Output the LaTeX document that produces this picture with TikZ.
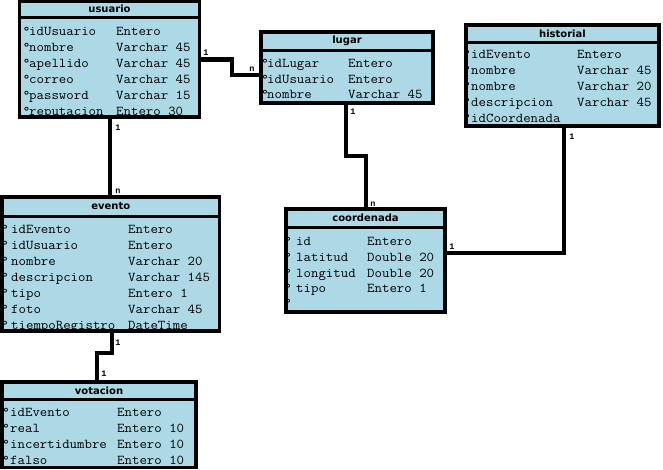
\documentclass[tikz,border=0pt]{standalone}
\usepackage{fontspec}
\newfontfamily\ermono[FakeStretch=1.07]{Latin Modern Mono}
\newfontfamily\erlabel{Liberation Mono}
\newfontfamily\hdrfont{DejaVu Sans}
\definecolor{erblue}{HTML}{ADD8E6}
\tikzset{
  tbl/.style={draw=none, fill=erblue, rectangle, inner sep=0pt, outer sep=0pt},
  tblframe/.style={line width=3.5pt, draw=black},
  hdrline/.style={line width=3pt, draw=black},
  ttl/.style={font=\hdrfont\bfseries\fontsize{10}{12}\selectfont, inner sep=0pt},
  attr/.style={font=\ermono\fontsize{13.5}{15}\selectfont, anchor=base west, inner sep=0pt},
  card/.style={font=\erlabel\bfseries\fontsize{8.5}{9}\selectfont, inner sep=0pt},
  link/.style={line width=4.5pt, line join=miter, draw=black},
}
% name, x1, y1, x2, y2, header-y, title
\newcommand\ertable[7]{%
  \node[tbl, minimum width={#4-#2}, minimum height={#5-#3}] (#1) at ({(#2+#4)/2},{(#3+#5)/2}) {};
  \draw[hdrline] (#2,#6) -- (#4,#6);
  \node[ttl] (#1-title) at ({(#2+#4)/2},{(#3+#6)/2}) {#7};
}
% name, x, baseline, degree width, name width, attribute, type
\newcommand\ertrow[7]{%
  \node[attr] (#1) at (#2,#3) {\makebox[#4pt][l]{°}\makebox[#5pt][l]{#6}#7};
}
\newcommand\erframe[1]{\draw[tblframe] (#1.north west) rectangle (#1.south east);}
\begin{document}
\begin{tikzpicture}[x=1pt,y=-1pt]
\useasboundingbox[fill=white] (0,0) rectangle (663,469);

% ---- tables ----
\ertable{usuario}{19.5}{1.5}{199.5}{117}{17}{usuario}
\ertable{lugar}{261}{32}{433}{103}{50}{lugar}
\ertable{historial}{466}{25}{659}{126}{42}{historial}
\ertable{evento}{2}{197}{219.5}{331}{216}{evento}
\ertable{coordenada}{286}{209}{445}{312}{227}{coordenada}
\ertable{votacion}{2}{382}{196}{467.5}{399}{votacion}

% usuario
\ertrow{u1}{22.7}{35}{6.3}{87}{idUsuario}{Entero}
\ertrow{u2}{22.7}{51}{6.3}{87}{nombre}{Varchar 45}
\ertrow{u3}{22.7}{67}{6.3}{87}{apellido}{Varchar 45}
\ertrow{u4}{22.7}{83}{6.3}{87}{correo}{Varchar 45}
\ertrow{u5}{22.7}{99}{6.3}{87}{password}{Varchar 15}
\ertrow{u6}{22.7}{115}{6.3}{87}{reputacion}{Entero 30}

% lugar
\ertrow{l1}{261.2}{67}{5.8}{81}{idLugar}{Entero}
\ertrow{l2}{261.2}{83}{5.8}{81}{idUsuario}{Entero}
\ertrow{l3}{261.2}{98.5}{5.8}{81}{nombre}{Varchar 45}

% historial
\ertrow{h1}{463.2}{58}{7.8}{106}{idEvento}{Entero}
\ertrow{h2}{463.2}{74}{7.8}{106}{nombre}{Varchar 45}
\ertrow{h3}{463.2}{90}{7.8}{106}{nombre}{Varchar 20}
\ertrow{h4}{463.2}{106}{7.8}{106}{descripcion}{Varchar 45}
\ertrow{h5}{463.2}{122}{7.8}{106}{idCoordenada}{}

% evento
\ertrow{e1}{1.2}{233}{9.8}{117}{idEvento}{Entero}
\ertrow{e2}{1.2}{249}{9.8}{117}{idUsuario}{Entero}
\ertrow{e3}{1.2}{265}{9.8}{117}{nombre}{Varchar 20}
\ertrow{e4}{1.2}{281}{9.8}{117}{descripcion}{Varchar 145}
\ertrow{e5}{1.2}{297}{9.8}{117}{tipo}{Entero 1}
\ertrow{e6}{1.2}{313}{9.8}{117}{foto}{Varchar 45}
\ertrow{e7}{1.2}{329}{9.8}{117}{tiempoRegistro}{DateTime}

% coordenada
\ertrow{c1}{284.2}{245}{11.8}{71}{id}{Entero}
\ertrow{c2}{284.2}{261}{11.8}{71}{latitud}{Double 20}
\ertrow{c3}{284.2}{277}{11.8}{71}{longitud}{Double 20}
\ertrow{c4}{284.2}{292.5}{11.8}{71}{tipo}{Entero 1}
\ertrow{c5}{284.2}{307}{11.8}{71}{}{}

% votacion
\ertrow{v1}{2.2}{416.5}{7.8}{107}{idEvento}{Entero}
\ertrow{v2}{2.2}{432}{7.8}{107}{real}{Entero 10}
\ertrow{v3}{2.2}{448}{7.8}{107}{incertidumbre}{Entero 10}
\ertrow{v4}{2.2}{464}{7.8}{107}{falso}{Entero 10}

% frames
\erframe{usuario}
\erframe{lugar}
\erframe{historial}
\erframe{evento}
\erframe{coordenada}
\erframe{votacion}

% ---- connectors ----
\draw[link] (usuario.east |- 0,59.5) -| (232,75) -- (lugar.west |- 0,75);
\draw[link] (346,0 |- lugar.south) -- (346,156) -| (366,0 |- coordenada.north);
\draw[link] (564,0 |- historial.south) |- (coordenada.east |- 0,253);
\draw[link] (110,0 |- usuario.south) -- (110,0 |- evento.north);
\draw[link] (112,0 |- evento.south) |- (97,353) -- (97,0 |- votacion.north);

% ---- cardinalities ----
\node[card] (k1) at (206,53) {1};
\node[card] (k2) at (252,69) {n};
\node[card] (k3) at (353,112) {1};
\node[card] (k4) at (373,204) {n};
\node[card] (k5) at (572,137) {1};
\node[card] (k6) at (452,247) {1};
\node[card] (k7) at (118,128) {1};
\node[card] (k8) at (118,191) {n};
\node[card] (k9) at (118,343) {1};
\node[card] (k10) at (104,374) {1};
\end{tikzpicture}
\end{document}
